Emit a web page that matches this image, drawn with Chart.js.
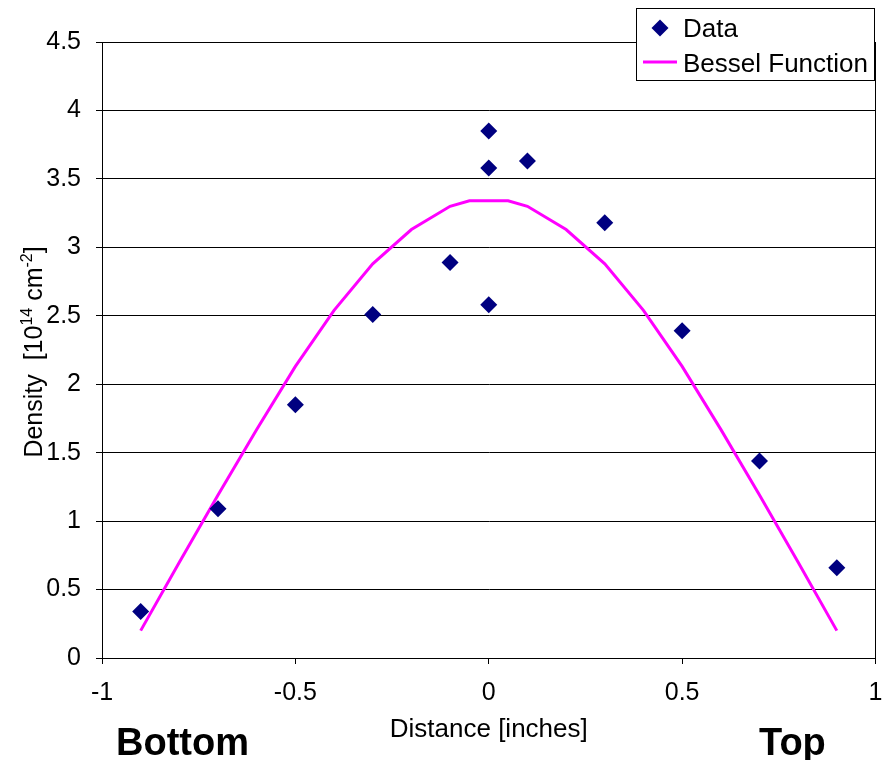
<!DOCTYPE html>
<html>
<head>
<meta charset="utf-8">
<title>Density profile</title>
<script src="https://cdn.jsdelivr.net/npm/chart.js@4/dist/chart.umd.min.js"></script>
<style>
  html, body { margin: 0; padding: 0; background: #fff; }
  #wrap { width: 884px; height: 760px; }
</style>
</head>
<body>
<div id="wrap"><canvas id="grafico" width="884" height="760"></canvas></div>
<script>
const dataX = [-0.9, -0.7, -0.5, -0.3, -0.1, 0, 0, 0, 0.1, 0.3, 0.5, 0.7, 0.9];
const dataY = [0.34, 1.09, 1.85, 2.51, 2.89, 2.58, 3.58, 3.85, 3.63, 3.18, 2.39, 1.44, 0.66];

// Curva de Bessel (amostrada no gráfico)
const besselX = [-0.9, -0.8, -0.7, -0.6, -0.5, -0.4, -0.3, -0.2, -0.1, -0.05,
                 0.05, 0.1, 0.2, 0.3, 0.4, 0.5, 0.6, 0.7, 0.8, 0.9];
const besselY = [0.20, 0.70, 1.19, 1.67, 2.13, 2.54, 2.88, 3.13, 3.30, 3.34,
                 3.34, 3.30, 3.13, 2.88, 2.54, 2.13, 1.67, 1.19, 0.70, 0.20];

const xTicks = [-1, -0.5, 0, 0.5, 1];
const yTicks = [0, 0.5, 1, 1.5, 2, 2.5, 3, 3.5, 4, 4.5];

const FONTE = "'Liberation Sans', Arial, sans-serif";

// moldura, título do eixo Y com sobrescritos, legenda e rótulos Bottom/Top
const extras = {
  id: "extras",
  afterDraw(chart) {
    const ctx = chart.ctx;
    const a = chart.chartArea;
    ctx.save();

    // borda da área do gráfico
    ctx.strokeStyle = "#000";
    ctx.lineWidth = 1;
    ctx.strokeRect(Math.round(a.left) + 0.5, Math.round(a.top) + 0.5,
      Math.round(a.right - a.left) - 1, Math.round(a.bottom - a.top));

    // título do eixo Y: Density  [10^14 cm^-2]
    const partes = [
      { t: "Density  [10", sup: false },
      { t: "14", sup: true },
      { t: " cm", sup: false },
      { t: "-2", sup: true },
      { t: "]", sup: false },
    ];
    const fN = "25px " + FONTE, fS = "16px " + FONTE;
    let total = 0;
    partes.forEach(p => {
      ctx.font = p.sup ? fS : fN;
      p.w = ctx.measureText(p.t).width;
      total += p.w;
    });
    ctx.translate(42, 352);
    ctx.rotate(-Math.PI / 2);
    ctx.fillStyle = "#000";
    ctx.textBaseline = "alphabetic";
    ctx.textAlign = "left";
    let cx = -total / 2;
    partes.forEach(p => {
      ctx.font = p.sup ? fS : fN;
      ctx.fillText(p.t, cx, p.sup ? -10 : 0);
      cx += p.w;
    });
    ctx.setTransform(1, 0, 0, 1, 0, 0);

    // legenda
    const ds = chart.data.datasets;
    ctx.fillStyle = "#fff";
    ctx.fillRect(636.5, 8.5, 238, 72);
    ctx.strokeStyle = "#000";
    ctx.strokeRect(636.5, 8.5, 238, 72);
    ctx.font = "26px " + FONTE;
    ctx.fillStyle = "#000";
    ctx.fillText(ds[0].label, 683, 37);
    ctx.fillText(ds[1].label, 683, 72);
    ctx.fillStyle = ds[0].backgroundColor;
    ctx.beginPath();
    ctx.moveTo(660, 19.5); ctx.lineTo(668.5, 28); ctx.lineTo(660, 36.5); ctx.lineTo(651.5, 28);
    ctx.closePath();
    ctx.fill();
    ctx.strokeStyle = ds[1].borderColor;
    ctx.lineWidth = 3;
    ctx.beginPath();
    ctx.moveTo(643, 62); ctx.lineTo(677, 62);
    ctx.stroke();

    // Bottom / Top
    ctx.fillStyle = "#000";
    ctx.font = "bold 38px " + FONTE;
    ctx.fillText("Bottom", 116, 755);
    ctx.fillText("Top", 759, 755);
    ctx.restore();
  }
};

const ctx = document.getElementById("grafico").getContext("2d");
new Chart(ctx, {
  type: "scatter",
  data: {
    datasets: [
      {
        label: "Data",
        data: dataX.map((x, i) => ({ x: x, y: dataY[i] })),
        pointStyle: "rectRot",
        pointRadius: 8.5,
        pointHoverRadius: 8.5,
        backgroundColor: "#000080",
        borderColor: "#000080",
        borderWidth: 0,
        showLine: false,
        order: 0,
      },
      {
        label: "Bessel Function",
        data: besselX.map((x, i) => ({ x: x, y: besselY[i] })),
        showLine: true,
        borderColor: "#ff00ff",
        backgroundColor: "#ff00ff",
        borderWidth: 3,
        pointRadius: 0,
        pointHoverRadius: 0,
        tension: 0,
        order: 1,
      },
    ],
  },
  options: {
    responsive: false,
    animation: false,
    events: [],
    layout: { padding: { top: 42, right: 8, left: 0, bottom: 0 } },
    plugins: {
      legend: { display: false },
      tooltip: { enabled: false },
      title: { display: false },
    },
    scales: {
      x: {
        type: "linear",
        min: -1,
        max: 1,
        afterFit(scale) {
          scale.height = 102;
          scale.paddingLeft = 0;
          scale.paddingRight = 0;
        },
        afterBuildTicks(scale) { scale.ticks = xTicks.map(v => ({ value: v })); },
        grid: { drawOnChartArea: false, drawTicks: true, tickLength: 6, color: "#000" },
        border: { display: true, color: "#000", width: 1 },
        ticks: {
          color: "#000",
          padding: 14,
          font: { family: FONTE, size: 25 },
          callback: v => String(v),
        },
        title: {
          display: true,
          text: "Distance [inches]",
          color: "#000",
          font: { family: FONTE, size: 26 },
          padding: { top: 0, bottom: 15 },
        },
      },
      y: {
        type: "linear",
        min: 0,
        max: 4.5,
        afterFit(scale) {
          scale.width = 102;
          scale.paddingTop = 0;
          scale.paddingBottom = 0;
        },
        afterBuildTicks(scale) { scale.ticks = yTicks.map(v => ({ value: v })); },
        grid: { drawTicks: true, tickLength: 6, color: "#000" },
        border: { display: true, color: "#000", width: 1 },
        ticks: {
          color: "#000",
          padding: 15,
          font: { family: FONTE, size: 25 },
          callback: v => String(v),
        },
      },
    },
  },
  plugins: [extras],
});
</script>
</body>
</html>
